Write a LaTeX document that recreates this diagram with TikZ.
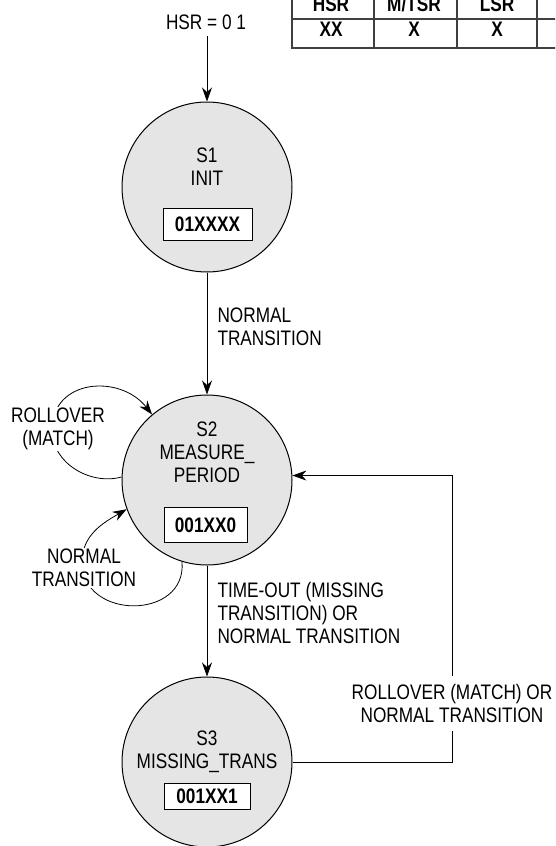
\documentclass[tikz,border=0pt]{standalone}
\usepackage{fontspec}
\setmainfont{Liberation Sans}[FakeStretch=0.82]
\usetikzlibrary{arrows.meta,calc}
\begin{document}
\begin{tikzpicture}[x=1pt,y=1pt,
  every node/.style={font=\fontsize{21}{23}\selectfont, align=center},
  state/.style={circle, draw, fill=gray!20, minimum size=170pt, inner sep=0pt, line width=1pt},
  code/.style={draw, fill=white, font=\fontsize{21}{23}\selectfont\bfseries, inner sep=0pt, text height=15pt, text depth=0pt, line width=1pt},
  arr/.style={-{Stealth[length=14pt,width=10pt]}, line width=0.8pt},
  plain/.style={line width=0.8pt},
  lbl/.style={fill=white, inner sep=1pt},
  tab/.style={line width=1.2pt, draw=black!75},
  th/.style={font=\fontsize{21}{23}\selectfont\bfseries}]
\useasboundingbox (0,0) rectangle (555,-846);
\clip (0,0) rectangle (555,-846);

% table (cropped at the top)
\draw[tab] (292,6) -- (292,-48);
\draw[tab] (374,6) -- (374,-48);
\draw[tab] (457,6) -- (457,-48);
\draw[tab] (537,6) -- (537,-48);
\draw[tab] (291.4,-19) -- (556,-19);
\draw[tab] (291.4,-48) -- (556,-48);
\node[th] (h1) at (331,-4.5) {HSR};
\node[th] (h2) at (414,-4.5) {M/TSR};
\node[th] (h3) at (497,-4.5) {LSR};
\node[th] (v1) at (331,-29) {XX};
\node[th] (v2) at (414,-29) {X};
\node[th] (v3) at (497,-29) {X};

% states
\node[state] (s1) at (207,-187) {};
\node[state] (s2) at (207,-480) {};
\node[state] (s3) at (207,-762) {};

\node (s1t) at (207,-166.5) {S1\\INIT};
\node[code, minimum width=89pt, minimum height=32pt] (s1c) at (207.5,-224) {01XXXX};
\node (s2t) at (207,-452.5) {S2\\MEASURE\_\\PERIOD};
\node[code, minimum width=83pt, minimum height=35pt] (s2c) at (205.5,-524.5) {001XX0};
\node (s3t) at (207,-751.5) {S3\\MISSING\_TRANS};
\node[code, minimum width=86pt, minimum height=26pt] (s3c) at (207,-796) {001XX1};

% entry
\node (hsr) at (206,-22) {HSR = 0 1};
\draw[arr] ([yshift=-3pt]hsr.south -| s1.north) -- (s1.north);

% S1 -> S2
\draw[arr] (s1) -- (s2);
\node[anchor=west, align=left] (l12) at (214,-327) {NORMAL\\TRANSITION};

% S2 -> S3
\draw[arr] (s2) -- (s3);
\node[anchor=west, align=left] (l23) at (214,-613) {TIME-OUT (MISSING\\TRANSITION) OR\\NORMAL TRANSITION};

% S3 -> S2 (line broken by its label)
\coordinate (g1) at (452,-731);
\coordinate (g2) at (452,-676);
\draw[plain] (s3.east) -| (g1);
\draw[arr] (g2) |- (s2.3);
\node[lbl] (l32) at (452,-703) {ROLLOVER (MATCH) OR\\NORMAL TRANSITION};

% self loop: rollover
\coordinate (rlw) at (52,-430);
\draw[arr] (s2.178) to[out=195,in=-90] (rlw) to[out=90,in=128,looseness=1.3] (s2.130);
\node[lbl] (lrl) at (58,-429) {ROLLOVER\\(MATCH)};

% self loop: normal transition
\coordinate (ntw) at (82,-562);
\draw[arr] (s2.253) to[out=-85,in=-90,looseness=1.5] (ntw) to[out=90,in=210] (s2.200);
\node[lbl] (lnt) at (84,-568) {NORMAL\\TRANSITION};
\end{tikzpicture}
\end{document}
